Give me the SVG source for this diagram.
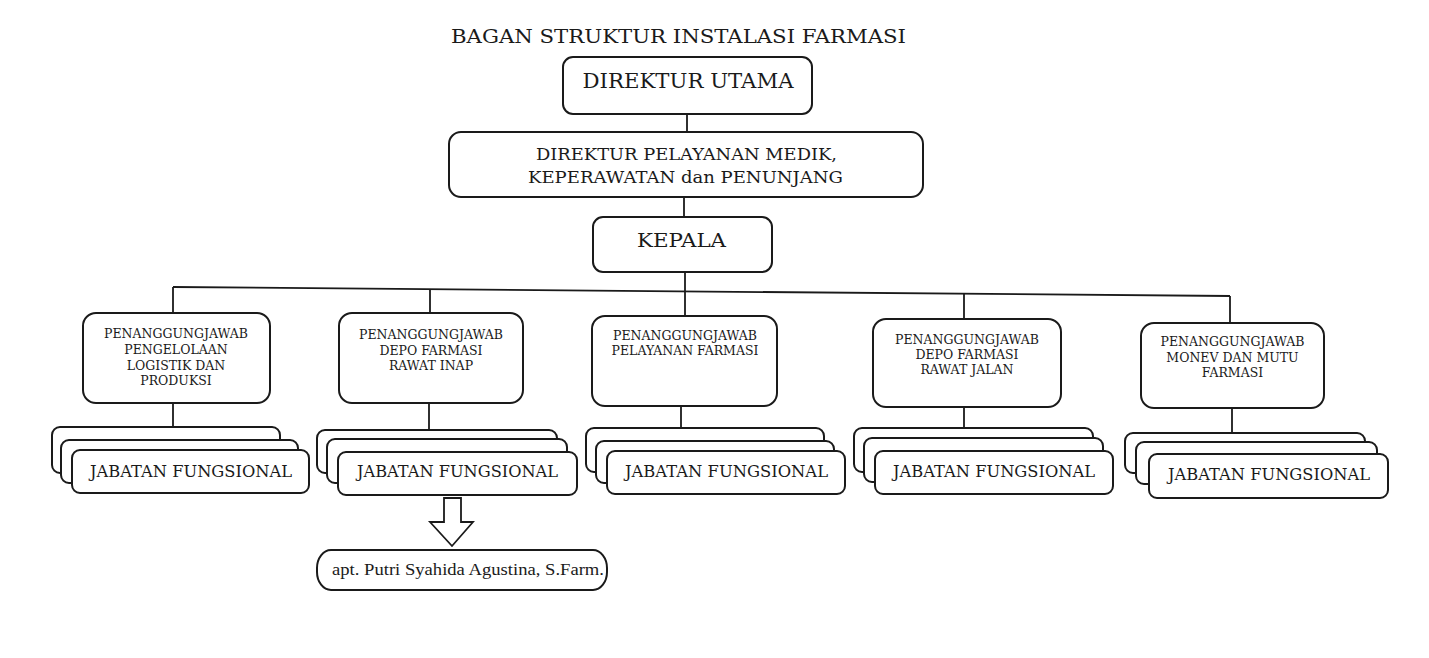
<svg xmlns="http://www.w3.org/2000/svg" width="1429" height="658" viewBox="0 0 1429 658">
<style>
.bx{fill:#fff;stroke:#1a1a1a;stroke-width:2}
.ln{stroke:#1a1a1a;stroke-width:1.8;fill:none}
.t{font-family:"DejaVu Serif","Liberation Serif",serif;fill:#1a1a1a;text-anchor:middle}
.s{font-size:12.5px}
.jf{font-size:16.5px}
.nm{font-family:"Liberation Serif","Times New Roman",serif;font-size:17px;fill:#1a1a1a}
</style>
<rect width="1429" height="658" fill="#fff"/>
<text class="t" x="678.5" y="43" font-size="18" textLength="455" lengthAdjust="spacingAndGlyphs">BAGAN STRUKTUR INSTALASI FARMASI</text>

<g id="connectors">
<line class="ln" x1="687" y1="114" x2="687" y2="132"/>
<line class="ln" x1="684" y1="197" x2="684" y2="217"/>
<line class="ln" x1="685" y1="272" x2="685" y2="291"/>
<line class="ln" x1="173" y1="287" x2="1230" y2="296"/>
<line class="ln" x1="173" y1="287" x2="173" y2="313"/>
<line class="ln" x1="430" y1="289" x2="430" y2="313"/>
<line class="ln" x1="685" y1="291" x2="685" y2="316"/>
<line class="ln" x1="964" y1="293" x2="964" y2="319"/>
<line class="ln" x1="1230" y1="296" x2="1230" y2="323"/>
<line class="ln" x1="173" y1="403" x2="173" y2="427"/>
<line class="ln" x1="429" y1="403" x2="429" y2="430"/>
<line class="ln" x1="681" y1="406" x2="681" y2="428"/>
<line class="ln" x1="964" y1="407" x2="964" y2="428"/>
<line class="ln" x1="1232" y1="408" x2="1232" y2="433"/>
<polygon class="ln" stroke-width="2" fill="#fff" points="444,498 461,498 461,522 473,522 452,546 430,522 444,522"/>
</g>

<g id="direktur-utama">
<rect class="bx" x="563" y="57" width="249" height="57" rx="10"/>
<text class="t" x="688" y="88" font-size="20" textLength="211" lengthAdjust="spacingAndGlyphs">DIREKTUR UTAMA</text>
</g>

<g id="direktur-pelayanan">
<rect class="bx" x="449" y="132" width="474" height="65" rx="12"/>
<text class="t" x="686.5" y="160" font-size="16.5" textLength="301" lengthAdjust="spacingAndGlyphs">DIREKTUR PELAYANAN MEDIK,</text>
<text class="t" x="685.5" y="183" font-size="16.5" textLength="315" lengthAdjust="spacingAndGlyphs">KEPERAWATAN dan PENUNJANG</text>
</g>

<g id="kepala">
<rect class="bx" x="593" y="217" width="179" height="55" rx="10"/>
<text class="t" x="681.5" y="247" font-size="19" textLength="89" lengthAdjust="spacingAndGlyphs">KEPALA</text>
</g>

<g id="pj-logistik">
<rect class="bx" x="83" y="313" width="187" height="90" rx="13"/>
<text class="t s" x="176" y="338">PENANGGUNGJAWAB</text>
<text class="t s" x="176" y="354">PENGELOLAAN</text>
<text class="t s" x="176" y="370">LOGISTIK DAN</text>
<text class="t s" x="176" y="385">PRODUKSI</text>
</g>

<g id="pj-rawat-inap">
<rect class="bx" x="339" y="313" width="184" height="90" rx="13"/>
<text class="t s" x="431" y="339">PENANGGUNGJAWAB</text>
<text class="t s" x="431" y="355">DEPO FARMASI</text>
<text class="t s" x="431" y="370">RAWAT INAP</text>
</g>

<g id="pj-pelayanan">
<rect class="bx" x="592" y="316" width="185" height="90" rx="13"/>
<text class="t s" x="685" y="340">PENANGGUNGJAWAB</text>
<text class="t s" x="685" y="355">PELAYANAN FARMASI</text>
</g>

<g id="pj-rawat-jalan">
<rect class="bx" x="873" y="319" width="188" height="88" rx="13"/>
<text class="t s" x="967" y="344">PENANGGUNGJAWAB</text>
<text class="t s" x="967" y="359">DEPO FARMASI</text>
<text class="t s" x="967" y="374">RAWAT JALAN</text>
</g>

<g id="pj-monev">
<rect class="bx" x="1141" y="323" width="183" height="85" rx="13"/>
<text class="t s" x="1232.5" y="346">PENANGGUNGJAWAB</text>
<text class="t s" x="1232.5" y="362">MONEV DAN MUTU</text>
<text class="t s" x="1232.5" y="377">FARMASI</text>
</g>

<g id="jf-1">
<rect class="bx" x="52" y="427" width="228" height="46" rx="8"/>
<rect class="bx" x="61" y="440" width="237" height="43" rx="8"/>
<rect class="bx" x="72" y="450" width="237" height="43" rx="8"/>
<text class="t jf" x="191" y="477" textLength="202" lengthAdjust="spacingAndGlyphs">JABATAN FUNGSIONAL</text>
</g>

<g id="jf-2">
<rect class="bx" x="317" y="430" width="240" height="43" rx="8"/>
<rect class="bx" x="327" y="439" width="240" height="44" rx="8"/>
<rect class="bx" x="338" y="452" width="239" height="43" rx="8"/>
<text class="t jf" x="457.5" y="477" textLength="201" lengthAdjust="spacingAndGlyphs">JABATAN FUNGSIONAL</text>
</g>

<g id="jf-3">
<rect class="bx" x="586" y="428" width="238" height="44" rx="8"/>
<rect class="bx" x="596" y="441" width="238" height="42" rx="8"/>
<rect class="bx" x="607" y="451" width="238" height="43" rx="8"/>
<text class="t jf" x="726.5" y="477" textLength="203" lengthAdjust="spacingAndGlyphs">JABATAN FUNGSIONAL</text>
</g>

<g id="jf-4">
<rect class="bx" x="854" y="428" width="239" height="44" rx="8"/>
<rect class="bx" x="864" y="438" width="239" height="44" rx="8"/>
<rect class="bx" x="875" y="451" width="238" height="43" rx="8"/>
<text class="t jf" x="994" y="477" textLength="202" lengthAdjust="spacingAndGlyphs">JABATAN FUNGSIONAL</text>
</g>

<g id="jf-5">
<rect class="bx" x="1125" y="433" width="240" height="40" rx="8"/>
<rect class="bx" x="1136" y="442" width="241" height="42" rx="8"/>
<rect class="bx" x="1149" y="454" width="239" height="44" rx="8"/>
<text class="t jf" x="1269" y="480" textLength="202" lengthAdjust="spacingAndGlyphs">JABATAN FUNGSIONAL</text>
</g>

<g id="nama">
<rect class="bx" x="317" y="550" width="290" height="40" rx="14" ry="18" stroke-width="2.6"/>
<text class="nm" x="332" y="575" textLength="272" lengthAdjust="spacingAndGlyphs">apt. Putri Syahida Agustina, S.Farm.</text>
</g>
</svg>
